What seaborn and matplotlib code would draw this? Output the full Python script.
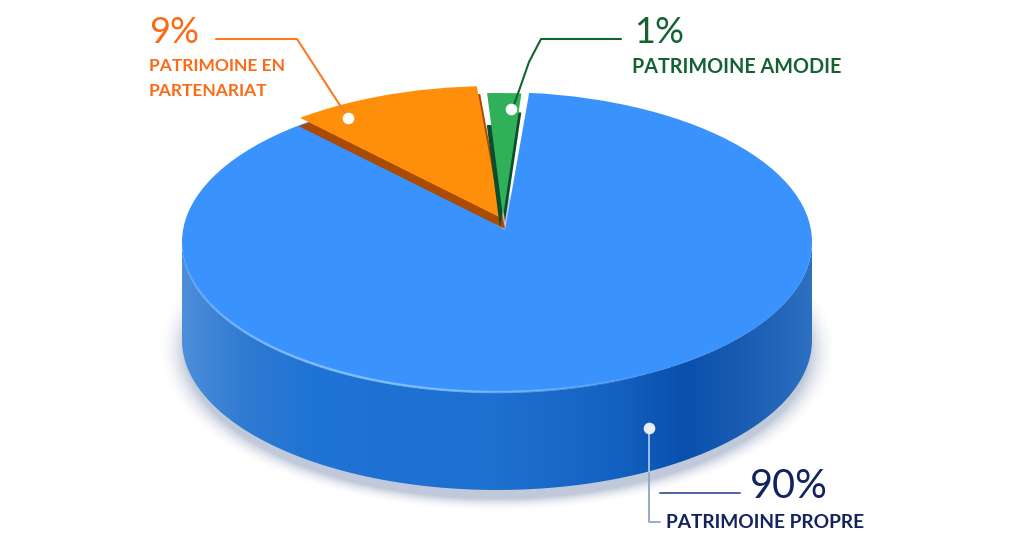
# 3D looking pie chart, patrimoine split
import numpy as np
import matplotlib
matplotlib.use("Agg")
import matplotlib.pyplot as plt
import seaborn as sns
from matplotlib.path import Path
from matplotlib.patches import Ellipse, PathPatch

categories = ["PATRIMOINE PROPRE", "PATRIMOINE EN\nPARTENARIAT", "PATRIMOINE AMODIE"]
percent_labels = ["90%", "9%", "1%"]
# slice sizes as drawn in the picture (they are not quite the printed percents)
# the blue one runs on a little under the orange slice
drawn_shares = [88, 10.75, 2.1]
face_colors = ["#3a93fd", "#fe8f0a", "#31b05a"]
side_colors = ["#1e6fd0", "#a84a08", "#0b4d2a"]
text_colors = ["#14235f", "#fb6a14", "#136332"]
wall_colors = ["#4d8ed8", "#2f7ad2", "#2074d5", "#1f72d4", "#1e70d2", "#1d6fd0", "#1a69c8",
               "#1260bf", "#0a50ac", "#1a5db2", "#2d6fc0"]

CX, CY, RX, RY = 497, 242, 315, 150   # top ellipse, pixels
DEPTH = 98
TIP = (505, 230)


def ux(x):
    return (x - TIP[0]) / RX


def uy(y):
    return (TIP[1] - y) / RY


def draw_slice(ax, share, start, center, color, clip_center):
    # start = angle of the clockwise-first edge, seen from the tip
    wedges, _ = ax.pie([share, 100 - share], colors=[color, "none"], startangle=start,
                       counterclock=False, radius=1.2, center=(ux(center[0]), uy(center[1])),
                       wedgeprops={"linewidth": 0})
    clip = Ellipse((ux(clip_center[0]), uy(clip_center[1])), 2, 2, transform=ax.transData)
    wedges[0].set_clip_on(True)
    wedges[0].set_clip_path(clip)


sns.set_theme(style="white")
plt.rcParams["font.family"] = ["Lato", "DejaVu Sans"]

fig = plt.figure(figsize=(10.24, 5.48), dpi=100, facecolor="white")

# base layer in pixels: soft shadow and the side wall
base = fig.add_axes([0, 0, 1, 1])
xx, yy = np.meshgrid(np.arange(1024), np.arange(548))
dist = np.sqrt(((xx - CX) / (RX - 3)) ** 2 + ((yy - (CY + DEPTH + 9)) / (RY - 1)) ** 2)
alpha = 0.28 * np.clip((1.09 - dist) / 0.09, 0, 1) ** 2
shadow = np.zeros((548, 1024, 4))
shadow[..., :3] = matplotlib.colors.to_rgb("#1f3f7a")
shadow[..., 3] = alpha
base.imshow(shadow, extent=(0, 1024, 548, 0), aspect="auto", zorder=1)

t = np.linspace(np.pi, 0, 200)
top_x, top_y = CX + RX * np.cos(t), CY + RY * np.sin(t)
low_y = top_y + DEPTH
wall_pts = np.vstack([np.c_[top_x, top_y], np.c_[top_x[::-1], low_y[::-1]], [[top_x[0], top_y[0]]]])
wall_path = Path(wall_pts)
wall_cmap = sns.blend_palette(wall_colors, n_colors=256, as_cmap=True)
wall = base.imshow(np.linspace(0, 1, 640).reshape(1, -1), cmap=wall_cmap, aspect="auto",
                   extent=(CX - RX, CX + RX, 548, 0), zorder=2)
wall.set_clip_path(PathPatch(wall_path, transform=base.transData))
base.set_xlim(0, 1024)
base.set_ylim(548, 0)
base.axis("off")

# pie layer: one data unit = RX px across, RY px down
pie_ax = fig.add_axes([0, 0, 1, 1])
pie_ax.patch.set_alpha(0)
draw_slice(pie_ax, drawn_shares[0], 85.2, TIP, face_colors[0], (CX, CY))
# orange slice: wall first, then the face
draw_slice(pie_ax, drawn_shares[1], 133.7, (505, 229), side_colors[1], (494, 244))
draw_slice(pie_ax, drawn_shares[1], 133.7, (501, 218), face_colors[1], (494, 236))
# green slice: dark sides left and right, then the face
draw_slice(pie_ax, drawn_shares[2], 93.5, (500, 228), side_colors[2], (495, 275))
draw_slice(pie_ax, drawn_shares[2], 93.5, (505, 222), side_colors[2], (CX, 262))
draw_slice(pie_ax, drawn_shares[2], 93.5, (503, 217), face_colors[2], (CX, 243))
pie_ax.set_aspect("auto")
pie_ax.set_xlim(ux(0), ux(1024))
pie_ax.set_ylim(uy(548), uy(0))
pie_ax.axis("off")

# overlay in pixels: rim light, leaders, dots, text
top = fig.add_axes([0, 0, 1, 1])
top.patch.set_alpha(0)
top.set_xlim(0, 1024)
top.set_ylim(548, 0)
top.axis("off")

# rim light fades out towards both ends
t_rim = np.linspace(np.radians(175), np.radians(60), 60)
rim_x, rim_y = CX + RX * np.cos(t_rim), CY + RY * np.sin(t_rim)
for i in range(len(t_rim) - 1):
    fade = np.sin(np.pi * i / (len(t_rim) - 2)) ** 0.8
    top.plot(rim_x[i:i + 2], rim_y[i:i + 2], color="#8cc6ff", lw=1.8, alpha=0.85 * fade,
             solid_capstyle="butt")

top.plot([216, 297, 345], [39, 39, 113], color="#fb7a22", lw=1.5)
top.plot([621, 541, 529, 514], [39, 39, 62, 105], color=text_colors[2], lw=1.5)
top.plot([649, 649], [432, 473], color="#a9c6ea", lw=1.3)
top.plot([649, 649, 660], [473, 522, 522], color="#8fa4c8", lw=1.3)
top.plot([660, 740], [493, 493], color="#4c64a4", lw=1.4)
for dot_x, dot_y, dot_color in [(649, 428, "#e8eef6"), (348, 118, "white"), (511, 109, "white")]:
    top.scatter([dot_x], [dot_y], s=70, color=dot_color, linewidths=0, zorder=5)

top.text(149, 43, percent_labels[1], color=text_colors[1], fontsize=26, va="baseline")
top.text(149, 66, "PATRIMOINE EN", color=text_colors[1], fontsize=12.5, fontweight="bold", va="center")
top.text(149, 91, "PARTENARIAT", color=text_colors[1], fontsize=12.5, fontweight="bold", va="center")
top.text(634, 43, percent_labels[2], color=text_colors[2], fontsize=26, va="baseline")
top.text(632, 67, categories[2], color=text_colors[2], fontsize=14.2, fontweight="bold", va="center")
top.text(750, 498, percent_labels[0], color=text_colors[0], fontsize=28.5, va="baseline")
top.text(666, 522, categories[0], color=text_colors[0], fontsize=13.8, fontweight="bold", va="center")

fig.savefig("out.png", dpi=100, facecolor="white")
